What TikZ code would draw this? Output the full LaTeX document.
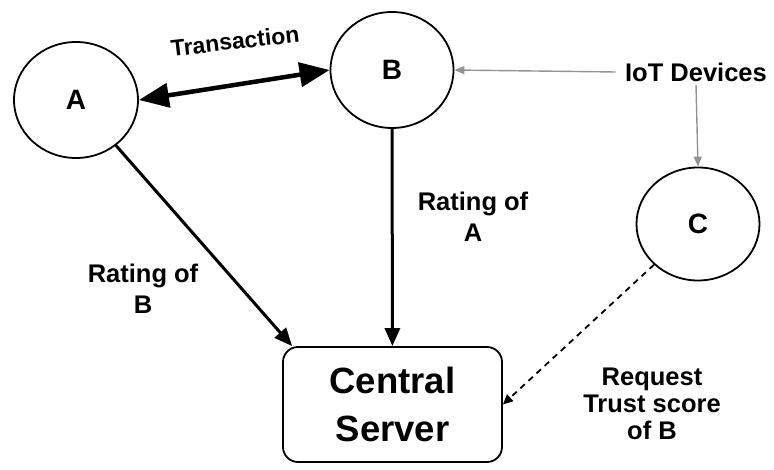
\documentclass[tikz,border=0pt]{standalone}
\usepackage{fontspec}
\setmainfont{Liberation Sans}
\usetikzlibrary{shapes.geometric,arrows.meta,calc}
\begin{document}
\begin{tikzpicture}[x=1pt,y=1pt,
  peer/.style={ellipse,draw=black,line width=1.8pt,inner sep=0pt,
    font=\fontsize{28}{30}\selectfont\bfseries},
  server/.style={rectangle,draw=black,line width=1.8pt,rounded corners=15pt,
    minimum width=219pt,minimum height=115pt,align=center,
    font=\fontsize{36.5}{48}\selectfont\bfseries},
  lbl/.style={align=center,font=\fontsize{25.5}{31}\selectfont\bfseries},
  rating/.style={line width=3pt,-{Triangle[length=18pt,width=15pt]}},
  feed/.style={draw=gray!85,line width=1.4pt,-{Triangle[length=10pt,width=8pt]}},
  query/.style={line width=1.8pt,dash pattern=on 6pt off 5pt,
    -{Triangle[length=10pt,width=9pt]}}]
\useasboundingbox (0,0) rectangle (774,469);

% participants
\node[peer,minimum width=124pt,minimum height=116pt] (A) at (76,369) {A};
\node[peer,minimum width=123pt,minimum height=116pt] (B) at (392,399) {B};
\node[peer,minimum width=123pt,minimum height=113pt] (C) at (698,245) {C};
\node[server] (S) at (392.5,64.5) {Central\\Server};

% labels
\node[lbl] (iot) at (696,397) {IoT Devices};
\node[font=\fontsize{23}{26}\selectfont\bfseries,rotate=6.5] (tx) at (235,428) {Transaction};
\node[lbl] (rb) at (143,180) {Rating of\\B};
\node[lbl] (ra) at (473,252) {Rating of\\A};
\node[lbl,font=\fontsize{25.5}{27}\selectfont\bfseries] (rq) at (652,65) {Request\\Trust score\\of B};

% transaction between A and B
\draw[line width=4.5pt,{Triangle[length=30pt,width=24pt]}-{Triangle[length=30pt,width=24pt]}]
  (A.east) -- (B.west);

% ratings sent to the server
\draw[rating] (A) -- ($(S.north west)+(10,0)$);
\draw[rating] (B) -- (S);

% IoT devices feeding B and C
\draw[feed] ($(iot.west)+(-6,0)$) -- (B.east);
\draw[feed] (iot.south) -- (C.north);

% C asks the server for a trust score
\draw[query] (C) -- (S.east);
\end{tikzpicture}
\end{document}
